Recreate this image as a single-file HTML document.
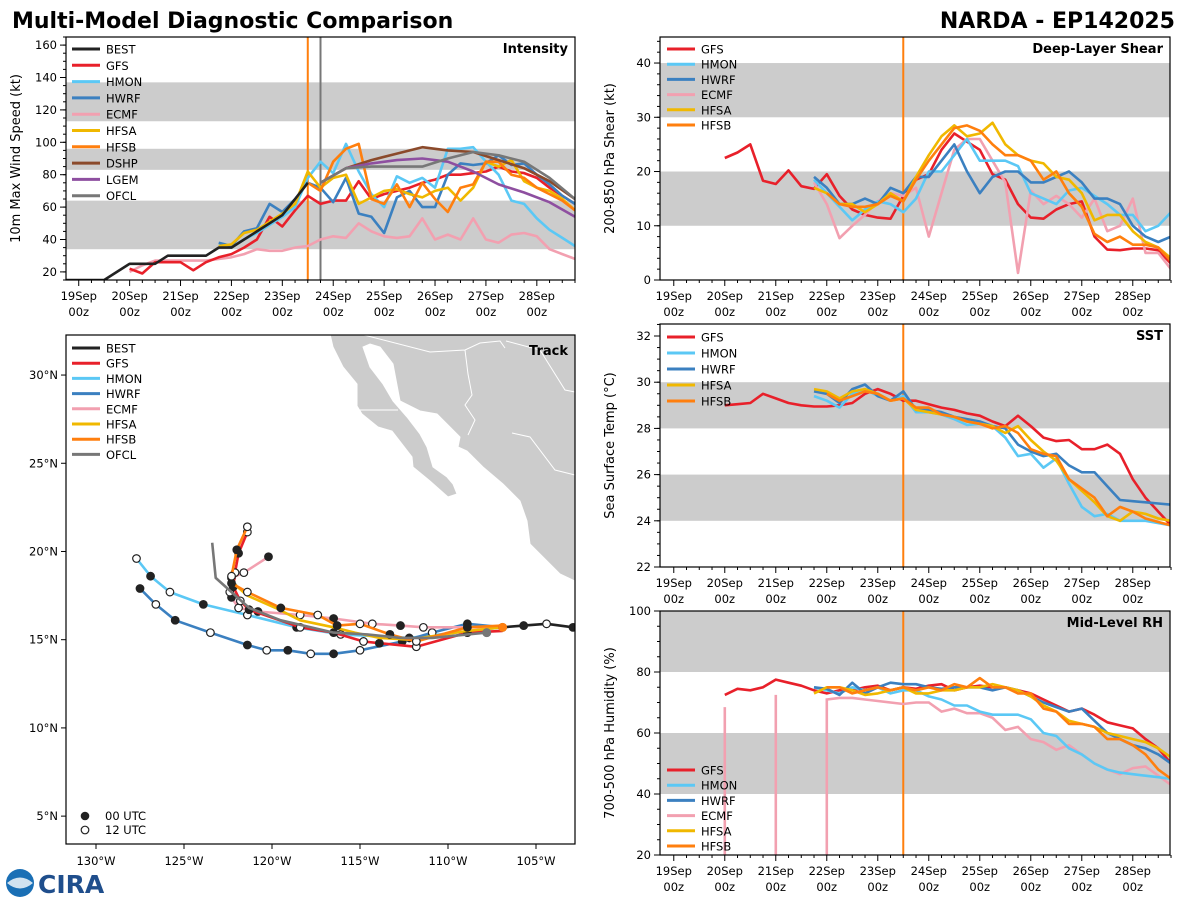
<!DOCTYPE html>
<html><head><meta charset="utf-8"><title>Multi-Model Diagnostic Comparison</title>
<style>
body{margin:0;background:#fff;}
svg{display:block;font-family:"DejaVu Sans","Liberation Sans",sans-serif;}
</style></head>
<body>
<svg id="fig" width="1200" height="900" viewBox="0 0 1200 900">
<text x="12" y="28" font-size="22" font-weight="bold">Multi-Model Diagnostic Comparison</text>
<text x="1175" y="28" font-size="22" font-weight="bold" text-anchor="end">NARDA - EP142025</text>
<g>
<circle cx="20" cy="883" r="14" fill="#1a6fb5"/>
<path d="M7,883 Q20,872 33,883 Q20,894 7,883Z" fill="#fff" opacity="0.8"/>
<text x="38" y="893" font-size="25" font-weight="bold" fill="#1f4e8c">CIRA</text>
</g>
</svg>
<script>
const NS='http://www.w3.org/2000/svg';
const svg=document.getElementById('fig');
function mk(p,tag,a){const e=document.createElementNS(NS,tag);for(const k in a)e.setAttribute(k,a[k]);p.appendChild(e);return e;}

// ---------- DATA ----------
const dayLabels=['19Sep','20Sep','21Sep','22Sep','23Sep','24Sep','25Sep','26Sep','27Sep','28Sep'];
const colors={BEST:'#222222',GFS:'#e8202a',HMON:'#5bc8f5',HWRF:'#3b80c0',ECMF:'#f2a0b0',HFSA:'#f0b800',HFSB:'#ff7f0e',DSHP:'#8b4a2b',LGEM:'#8e4fa0',OFCL:'#777777'};
const bestInt=[15,15,15,15,20,25,25,25,30,30,30,30,35,35,40,45,50,55,65,75];
const gfsInt=[22,19,26,26,26,21,26,29,31,35,40,54,48,58,67,62,64,64,76,65,68,70,72,75,77,80,80,81,82,85,82,81,78,72,67,62];
const hmonInt=[37,35,40,44,49,54,60,78,88,81,99,82,68,60,79,75,78,72,96,96,97,88,80,64,62,53,46,41,36];
const hwrfInt=[38,36,45,47,62,57,65,75,72,63,78,56,54,44,66,70,60,60,80,87,86,87,92,86,87,80,74,67,62];
const ecmfInt=[20,24,27,27,27,27,27,28,29,31,34,33,33,35,36,40,42,41,50,45,42,41,42,53,40,43,40,53,40,38,43,44,42,34,31,28];
const hfsaInt=[36,37,44,46,51,56,62,82,72,78,80,62,66,70,71,68,66,70,72,64,72,88,85,89,76,72,70,65,58];
const hfsbInt=[75,70,88,96,99,65,62,74,60,75,65,57,72,74,88,88,80,78,72,68,64,58];
const dshpInt=[75,84,89,93,97,95,94,89,84,76,65];
const lgemInt=[75,84,87,89,90,88,82,74,69,63,54];
const ofclInt=[75,84,85,85,85,90,94,92,88,78,65];
const gfsShr=[22.5,23.5,25,18.3,17.7,20.2,17.3,16.8,19.5,15.5,13,12,11.5,11.3,15.5,18.5,19.5,24,27,25.5,24,19.5,18.5,14,11.5,11.3,13,14,14.5,8,5.6,5.5,5.8,5.8,5.5,3];
const hmonShr=[18.5,16,13.5,11,13,14.5,14,12.5,15,20,20,23,26,22,22,22,21,16,15,14,16.5,17,15.5,14,12,12,9,10,12.5];
const hwrfShr=[19,17,14,14,15,14,17,16,19,19,22,25,20,16,19,20,20,18,18,19,20,18,15,15,14,10,8,7,8];
const ecmfShr=[18,14,7.7,10,12,14.5,16,15.5,17,8,16,24,26,26,22,18,1.3,16.5,14,15.5,14,11.5,15,9,10,15,5,5,2];
const hfsaShr=[17,16,14,14,12.5,14,16,14.5,19,23,26.5,28.5,26.5,27,29,25,23,22,21.5,19,18.5,16,11,12,12,9,7,6,4];
const hfsbShr=[16,14,13.5,13.5,14,15.5,14.5,18.5,22,25,28,28.5,27.5,25,23,23,22,18.5,20,16,13.5,8.5,7,8,6.5,6.5,6,3.5];
const gfsSst=[29.0,29.05,29.1,29.5,29.3,29.1,29.0,28.95,28.95,29.0,29.1,29.5,29.7,29.5,29.2,29.2,29.05,28.9,28.8,28.65,28.55,28.3,28.1,28.55,28.1,27.6,27.45,27.5,27.1,27.1,27.3,26.9,25.8,25.0,24.4,23.8];
const hmonSst=[29.4,29.2,28.9,29.5,29.7,29.4,29.2,29.4,28.7,28.7,28.6,28.4,28.15,28.2,28.1,27.6,26.8,26.9,26.3,26.7,25.6,24.6,24.2,24.3,24.0,24.0,24.0,23.9,23.8];
const hwrfSst=[29.6,29.5,29.1,29.7,29.9,29.4,29.2,29.6,28.8,28.8,28.7,28.5,28.4,28.3,28.1,28.0,27.3,27.0,26.8,26.9,26.4,26.1,26.1,25.5,24.9,24.85,24.8,24.75,24.7];
const hfsaSst=[29.7,29.6,29.3,29.6,29.7,29.5,29.2,29.3,28.8,28.7,28.6,28.5,28.3,28.2,28.1,27.8,28.1,27.5,27.0,26.6,25.8,25.3,24.8,24.2,24.0,24.4,24.3,24.1,24.0];
const hfsbSst=[29.5,29.2,29.4,29.6,29.5,29.2,29.3,28.9,28.9,28.6,28.5,28.3,28.2,28.0,28.1,27.8,27.1,26.9,26.8,25.8,25.4,25.0,24.2,24.6,24.4,24.1,23.95,23.8];
const gfsRh=[72.5,74.5,74,75,77.5,76.5,75.5,74,73,74,74,75,75.5,74,75,74.5,75.5,76,74,75,75.5,75,75,74,73,71,69,67,68,66,63.5,62.5,61.5,58,55,50];
const hmonRh=[75,74,73,75,74,75,73,74,74,72,71,69,69,67,66,66,66,64.5,60,59,55,53,50,48,47,46.5,46,45.5,45];
const hwrfRh=[75,74.5,72.5,76.5,73,75,76.5,76,76,75,74.5,75,75,75,74,75,74,72,70,68.5,67,68,64,60,58,56,55,53,50];
const ecmfRhTimes=[1,1,NaN,2,2,NaN,3,3,3.25,3.5,3.75,4,4.25,4.5,4.75,5,5.25,5.5,5.75,6,6.25,6.5,6.75,7,7.25,7.5,7.75,8,8.25,8.5,8.75,9,9.25,9.5,9.75];
const ecmfRh=[68.5,20,NaN,72.5,20,NaN,20,71,71.5,71.5,71,70.5,70,69.5,70,70,67,68,66.5,66.5,65,61,62,58,57,54.5,56,53,50,48,46.5,48.5,49,46,43];
const hfsaRh=[73,75,75,74,72.5,73,74,75,73,73,74,74,75,75,76,75,74,72,69,67,64,63,62,60,59,58,57,55,52];
const hfsbRh=[75,75,73,74,75,74,75,74,75,74,76,75,78,75,75,73,73,68,67,63,63,62,58,58,56,53,48,45];
const bestLon=[-101.5,-102.9,-104.4,-105.7,-106.9], bestLat=[15.4,15.7,15.9,15.8,15.7];
const gfsLon=[-106.9,-108.9,-111.8,-113.9,-114.8,-116.5,-118.4,-121.3,-121.8,-122.2,-122.1,-121.9,-121.4];
const gfsLat=[15.5,15.4,14.6,14.8,14.9,15.4,15.7,16.7,17.2,18.0,18.8,19.9,21.1];
const hmonLon=[-106.9,-112.2,-116.1,-118.6,-121.4,-123.9,-125.8,-126.9,-127.7];
const hmonLat=[15.7,15.1,15.3,15.7,16.4,17.0,17.7,18.6,19.6];
const hwrfLon=[-106.9,-108.9,-110.9,-112.6,-115.0,-116.5,-117.8,-119.1,-120.3,-121.4,-123.5,-125.5,-126.6,-127.5];
const hwrfLat=[15.7,15.9,15.4,14.9,14.4,14.2,14.2,14.4,14.4,14.7,15.4,16.1,17.0,17.9];
const ecmfLon=[-106.9,-108.9,-111.4,-112.7,-114.3,-116.5,-118.4,-120.8,-121.9,-122.3,-122.4,-122.3,-121.6,-120.2];
const ecmfLat=[15.7,15.7,15.7,15.8,15.9,16.2,16.4,16.6,16.8,17.4,17.7,18.5,18.8,19.7];
const hfsaLon=[-106.9,-108.9,-112.2,-113.9,-115.3,-116.5,-118.4,-119.8,-121.4,-122.2,-122.3];
const hfsaLat=[15.7,15.5,15.0,15.1,15.4,15.7,16.1,16.8,17.5,18.2,18.6];
const hfsbLon=[-106.9,-108.9,-111.8,-113.3,-115.0,-116.3,-117.4,-119.5,-121.4,-122.3,-122.3,-122.0,-121.4];
const hfsbLat=[15.8,15.7,14.9,15.3,15.9,15.8,16.4,16.8,17.7,18.2,18.6,20.1,21.4];
const ofclLon=[-107.8,-110.9,-112.7,-114.6,-116.5,-119.5,-121.3,-123.2,-123.4];
const ofclLat=[15.4,15.1,15.1,15.3,15.4,16.1,16.8,18.5,20.5];
const latTicks=[5,10,15,20,25,30];
const lonTicks=[-130,-125,-120,-115,-110,-105];

let clipN=0;
function panel(cfg){
  const g=mk(svg,'g',{});
  
  
  const X=d=>cfg.x0+(d-cfg.dmin)/(cfg.dmax-cfg.dmin)*(cfg.x1-cfg.x0);
  const Y=v=>cfg.y1-(v-cfg.ymin)/(cfg.ymax-cfg.ymin)*(cfg.y1-cfg.y0);
  const id='clip'+(clipN++);
  const cp=mk(g,'clipPath',{id:id});
  mk(cp,'rect',{x:cfg.x0,y:cfg.y0,width:cfg.x1-cfg.x0,height:cfg.y1-cfg.y0});
  const inner=mk(g,'g',{'clip-path':'url(#'+id+')'});
  (cfg.bands||[]).forEach(b=>{
    const r=mk(inner,'rect',{x:cfg.x0,y:Y(b[1]),width:cfg.x1-cfg.x0,height:Y(b[0])-Y(b[1]),fill:'#cccccc'});
    
    
  });
  return {g,inner,X,Y,cfg};
}
function frame(P,yt,yminor,xlab,ylab){
  const c=P.cfg,g=P.g;
  const fr=mk(g,'rect',{x:c.x0,y:c.y0,width:c.x1-c.x0,height:c.y1-c.y0,fill:'none',stroke:'#000','stroke-width':1.2});
  
  
  yt.forEach(v=>{
    const y=P.Y(v);
    mk(g,'line',{x1:c.x0-6,x2:c.x0,y1:y,y2:y,stroke:'#000'});
    const t=mk(g,'text',{x:c.x0-9,y:y+4,'font-size':11.5,'text-anchor':'end'});t.textContent=v;
    
    
  });
  for(let v=c.ymin;v<=c.ymax+1e-6;v+=yminor){const y=P.Y(v);mk(g,'line',{x1:c.x0-3,x2:c.x0,y1:y,y2:y,stroke:'#000'});}
  if(xlab){
    for(let d=0;d<=9.75;d+=0.25){const x=P.X(d);const major=Math.abs(d-Math.round(d))<1e-6;
      mk(g,'line',{x1:x,x2:x,y1:c.y1,y2:c.y1+(major?6:3),stroke:'#000'});}
    dayLabels.forEach((l,i)=>{const x=P.X(i);
      const t=mk(g,'text',{x:x,y:c.y1+20,'font-size':11.5,'text-anchor':'middle'});t.textContent=l;
      
      
      const t2=mk(g,'text',{x:x,y:c.y1+36,'font-size':11.5,'text-anchor':'middle'});t2.textContent='00z';
      
      });
  }
  const cy=(c.y0+c.y1)/2, lx=c.x0-46;
  const yl=mk(g,'text',{x:lx,y:cy,'font-size':13,'text-anchor':'middle',transform:'rotate(-90 '+lx+' '+cy+')'});yl.textContent=ylab;
  
  
  const tt=mk(g,'text',{x:c.x1-7,y:c.y0+16,'font-size':13,'font-weight':'bold','text-anchor':'end'});tt.textContent=c.title;
  
  
}
function series(P,start,vals,col,nm,w){
  let d='',pen=false;
  vals.forEach((v,i)=>{const t=start+i*0.25;
    if(isNaN(v)){pen=false;return;}
    d+=(pen?'L':'M')+P.X(t).toFixed(1)+','+P.Y(v).toFixed(1);pen=true;});
  const p=mk(P.inner,'path',{d:d,fill:'none',stroke:col,'stroke-width':w||2.6,'stroke-linejoin':'round'});
  
  
}
function seriesT(P,times,vals,col,nm){
  let d='',pen=false;
  vals.forEach((v,i)=>{const t=times[i];
    if(isNaN(v)||isNaN(t)){pen=false;return;}
    d+=(pen?'L':'M')+P.X(t).toFixed(1)+','+P.Y(v).toFixed(1);pen=true;});
  const p=mk(P.inner,'path',{d:d,fill:'none',stroke:col,'stroke-width':2.6});
  
  
}
function seriesStep(P,start,step,vals,col,nm){
  let d='';vals.forEach((v,i)=>{d+=(i?'L':'M')+P.X(start+i*step).toFixed(1)+','+P.Y(v).toFixed(1);});
  const p=mk(P.inner,'path',{d:d,fill:'none',stroke:col,'stroke-width':2.6,'stroke-linejoin':'round'});
  
  
}
function vline(P,d,col){
  const l=mk(P.inner,'line',{x1:P.X(d),x2:P.X(d),y1:P.cfg.y0,y2:P.cfg.y1,stroke:col,'stroke-width':2});
  
  
}
function legend(P,names,x,y,step){
  const g=mk(P.g,'g',{});
  
  
  names.forEach((n,i)=>{const yy=y+i*step;
    mk(g,'line',{x1:x,x2:x+28,y1:yy,y2:yy,stroke:colors[n],'stroke-width':3});
    const t=mk(g,'text',{x:x+34,y:yy+4.5,'font-size':11.5});t.textContent=n;
    
    });
}
const T0=2.75;

const P1=panel({name:'intensity',title:'Intensity',x0:66,x1:575,y0:37,y1:280,dmin:-0.25,dmax:9.75,ymin:15,ymax:165,bands:[[34,64],[83,96],[113,137]]});
vline(P1,4.5,'#ff7f0e');vline(P1,4.75,'#777');
series(P1,1,ecmfInt,colors.ECMF,'ecmf-intensity-line');
series(P1,1,gfsInt,colors.GFS,'gfs-intensity-line');
series(P1,T0,hmonInt,colors.HMON,'hmon-intensity-line');
series(P1,T0,hwrfInt,colors.HWRF,'hwrf-intensity-line');
series(P1,T0,hfsaInt,colors.HFSA,'hfsa-intensity-line');
series(P1,4.5,hfsbInt,colors.HFSB,'hfsb-intensity-line');
seriesStep(P1,4.75,0.5,dshpInt,colors.DSHP,'dshp-intensity-line');
seriesStep(P1,4.75,0.5,lgemInt,colors.LGEM,'lgem-intensity-line');
seriesStep(P1,4.75,0.5,ofclInt,colors.OFCL,'ofcl-intensity-line');
series(P1,-0.25,bestInt,colors.BEST,'best-intensity-line');
frame(P1,[20,40,60,80,100,120,140,160],5,true,'10m Max Wind Speed (kt)');
legend(P1,['BEST','GFS','HMON','HWRF','ECMF','HFSA','HFSB','DSHP','LGEM','OFCL'],72,49,16.3);

const P2=panel({name:'shear',title:'Deep-Layer Shear',x0:660,x1:1170,y0:37,y1:280,dmin:-0.27,dmax:9.73,ymin:0,ymax:44.8,bands:[[10,20],[30,40]]});
vline(P2,4.5,'#ff7f0e');
series(P2,1,gfsShr,colors.GFS,'gfs-shear-line');
series(P2,T0,ecmfShr,colors.ECMF,'ecmf-shear-line');
series(P2,T0,hmonShr,colors.HMON,'hmon-shear-line');
series(P2,T0,hwrfShr,colors.HWRF,'hwrf-shear-line');
series(P2,T0,hfsaShr,colors.HFSA,'hfsa-shear-line');
series(P2,3,hfsbShr,colors.HFSB,'hfsb-shear-line');
frame(P2,[0,10,20,30,40],2,true,'200-850 hPa Shear (kt)');
legend(P2,['GFS','HMON','HWRF','ECMF','HFSA','HFSB'],667,49,15.2);

const P3=panel({name:'sst',title:'SST',x0:660,x1:1170,y0:324,y1:567,dmin:-0.27,dmax:9.73,ymin:22,ymax:32.52,bands:[[24,26],[28,30]]});
vline(P3,4.5,'#ff7f0e');
series(P3,1,gfsSst,colors.GFS,'gfs-sst-line');
series(P3,T0,hmonSst,colors.HMON,'hmon-sst-line');
series(P3,T0,hwrfSst,colors.HWRF,'hwrf-sst-line');
series(P3,T0,hfsaSst,colors.HFSA,'hfsa-sst-line');
series(P3,3,hfsbSst,colors.HFSB,'hfsb-sst-line');
frame(P3,[22,24,26,28,30,32],0.5,true,'Sea Surface Temp (°C)');
legend(P3,['GFS','HMON','HWRF','HFSA','HFSB'],667,337,16);

const P4=panel({name:'rh',title:'Mid-Level RH',x0:660,x1:1170,y0:611,y1:855,dmin:-0.27,dmax:9.73,ymin:20,ymax:100,bands:[[40,60],[80,100]]});
vline(P4,4.5,'#ff7f0e');
seriesT(P4,ecmfRhTimes,ecmfRh,colors.ECMF,'ecmf-rh-line');
series(P4,1,gfsRh,colors.GFS,'gfs-rh-line');
series(P4,T0,hmonRh,colors.HMON,'hmon-rh-line');
series(P4,T0,hwrfRh,colors.HWRF,'hwrf-rh-line');
series(P4,T0,hfsaRh,colors.HFSA,'hfsa-rh-line');
series(P4,3,hfsbRh,colors.HFSB,'hfsb-rh-line');
frame(P4,[20,40,60,80,100],5,true,'700-500 hPa Humidity (%)');
legend(P4,['GFS','HMON','HWRF','ECMF','HFSA','HFSB'],667,770,15.2);

const M=panel({name:'track',title:'Track',x0:66,x1:575,y0:335,y1:844,dmin:0,dmax:1,ymin:3.42,ymax:32.27});
const LX=lon=>96+(lon+130)*17.6;
const land=mk(M.inner,'path',{fill:'#cccccc',stroke:'#fff','stroke-width':1,
 d:'M330,334 L333,347 L343,367 L357,384 L357,406 L362,414 L378,427 L392,431 L412,457 L413,467 L430,481 L448,497 L457,494 L453,484 L447,477 L433,467 L427,447 L420,434 L407,417 L393,401 L383,384 L370,367 L363,347 L370,344 L380,347 L393,364 L400,401 L420,411 L437,414 L447,424 L460,437 L458,447 L467,451 L483,467 L503,484 L520,501 L527,521 L530,544 L547,561 L560,574 L577,582 L577,334 Z'});


const bd=mk(M.inner,'path',{fill:'none',stroke:'#fff','stroke-width':1,d:'M360,334 L430,352 L465,350 L480,343 L500,341 L505,348 M465,350 L468,374 L472,395 L465,405 L475,420 L468,435 M506,341 L540,350 L565,390 L575,392 M512,433 L530,437 L555,470 L575,475 M357,410 L398,410'});


function track(lons,lats,col,nm,markers){
  let d='';lons.forEach((lo,i)=>{d+=(i?'L':'M')+LX(lo).toFixed(1)+','+M.Y(lats[i]).toFixed(1);});
  const p=mk(M.inner,'path',{d:d,fill:'none',stroke:col,'stroke-width':2.6,'stroke-linejoin':'round'});
  
  
  if(markers){lons.forEach((lo,i)=>{if(i===0)return;
    const c=mk(M.inner,'circle',{cx:LX(lo),cy:M.Y(lats[i]),r:3.8,fill:i%2?'#222':'#fff',stroke:'#222','stroke-width':1.2});
    
    });}
}
track(hmonLon,hmonLat,colors.HMON,'hmon-track',true);
track(hwrfLon,hwrfLat,colors.HWRF,'hwrf-track',true);
track(ecmfLon,ecmfLat,colors.ECMF,'ecmf-track',true);
track(gfsLon,gfsLat,colors.GFS,'gfs-track',true);
track(hfsaLon,hfsaLat,colors.HFSA,'hfsa-track',false);
track(hfsbLon,hfsbLat,colors.HFSB,'hfsb-track',true);
track(ofclLon,ofclLat,colors.OFCL,'ofcl-track',false);
track(bestLon,bestLat,colors.BEST,'best-track',true);
const cur=mk(M.inner,'circle',{cx:LX(-106.9),cy:M.Y(15.7),r:4.5,fill:'#ff7f0e'});


const of0=mk(M.inner,'circle',{cx:LX(-107.8),cy:M.Y(15.4),r:4.5,fill:'#777'});


(function(){const c=M.cfg,g=M.g;
  mk(g,'rect',{x:c.x0,y:c.y0,width:c.x1-c.x0,height:c.y1-c.y0,fill:'none',stroke:'#000','stroke-width':1.2});
  latTicks.forEach(v=>{const y=M.Y(v);mk(g,'line',{x1:c.x0-5,x2:c.x0,y1:y,y2:y,stroke:'#000'});
    const t=mk(g,'text',{x:c.x0-8,y:y+4,'font-size':11.5,'text-anchor':'end'});t.textContent=v+'°N';
    
    });
  lonTicks.forEach(v=>{const x=LX(v);mk(g,'line',{x1:x,x2:x,y1:c.y1,y2:c.y1+5,stroke:'#000'});
    const t=mk(g,'text',{x:x,y:c.y1+21,'font-size':11.5,'text-anchor':'middle'});t.textContent=(-v)+'°W';
    
    });
  const tt=mk(g,'text',{x:c.x1-7,y:c.y0+20,'font-size':13,'font-weight':'bold','text-anchor':'end'});tt.textContent='Track';
  
  
})();
legend(M,['BEST','GFS','HMON','HWRF','ECMF','HFSA','HFSB','OFCL'],72,348,15.2);
(function(){const g=mk(M.g,'g',{});
  
  
  mk(g,'circle',{cx:85,cy:816,r:3.8,fill:'#222',stroke:'#222'});
  mk(g,'circle',{cx:85,cy:830,r:3.8,fill:'#fff',stroke:'#222','stroke-width':1.2});
  const a=mk(g,'text',{x:105,y:820,'font-size':11.5});a.textContent='00 UTC';
  
  
  const b=mk(g,'text',{x:105,y:834,'font-size':11.5});b.textContent='12 UTC';
  
  
})();
</script>
</body></html>
